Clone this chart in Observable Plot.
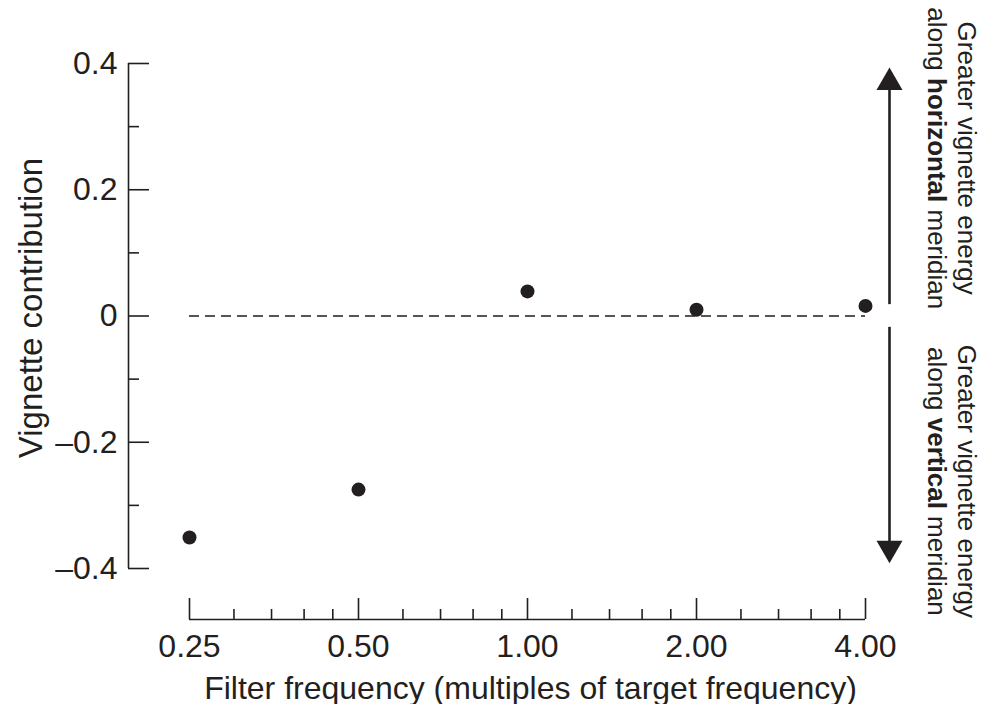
<!DOCTYPE html>
<html>
<head>
<meta charset="utf-8">
<script src="https://cdn.jsdelivr.net/npm/d3@7"></script>
<script src="https://cdn.jsdelivr.net/npm/@observablehq/plot@0.6"></script>
<style>
  html, body { margin: 0; padding: 0; background: #ffffff; }
  #chart { width: 982px; height: 704px; }
</style>
</head>
<body>
<div id="chart"></div>
<script>
// ---- data ----
const frequencies   = [0.25, 0.5, 1, 2, 4];
const contributions = [-0.351, -0.275, 0.039, 0.010, 0.016];

const xMajorTicks = [0.25, 0.5, 1, 2, 4];
const xTickLabels = ["0.25", "0.50", "1.00", "2.00", "4.00"];
const xMinorTicks = [0.3, 0.35, 0.4, 0.45, 0.6, 0.7, 0.8, 0.9, 1.2, 1.4, 1.6, 1.8, 2.4, 2.8, 3.2, 3.6];

const yMajorTicks = [-0.4, -0.2, 0, 0.2, 0.4];
const yTickLabels = ["\u20130.4", "\u20130.2", "0", "0.2", "0.4"];
const yMinorTicks = [-0.3, -0.1, 0.1, 0.3];

const xTitle = "Filter frequency (multiples of target frequency)";
const yTitle = "Vignette contribution";
const upperNote = ["Greater vignette energy", "along horizontal meridian"];
const lowerNote = ["Greater vignette energy", "along vertical meridian"];

// ---- layout ----
const W = 982, H = 704;
const mL = 189, mR = 117, mT = 63, mB = 136;
const frameW = W - mL - mR, frameH = H - mT - mB;
const yAxisOffset = -61;   // y axis drawn left of the data area
const xAxisOffset = 51;    // x axis drawn below the data area
const ink = "#231f20";
const font = "'Liberation Sans', Helvetica, Arial, sans-serif";
const tickFont = 32;
const titleFont = 32;
const noteFont = 26;

const points = frequencies.map((f, i) => ({f, c: contributions[i]}));

const sqrt3 = Math.sqrt(3);
const triUp = {
  draw(ctx, size) {
    const y = -Math.sqrt(size / (sqrt3 * 3));
    ctx.moveTo(0, y * 2); ctx.lineTo(-sqrt3 * y, -y); ctx.lineTo(sqrt3 * y, -y); ctx.closePath();
  }
};
const triDown = {
  draw(ctx, size) {
    const y = Math.sqrt(size / (sqrt3 * 3));
    ctx.moveTo(0, y * 2); ctx.lineTo(-sqrt3 * y, -y); ctx.lineTo(sqrt3 * y, -y); ctx.closePath();
  }
};

const chart = Plot.plot({
  width: W,
  height: H,
  marginLeft: mL,
  marginRight: mR,
  marginTop: mT,
  marginBottom: mB,
  style: {fontFamily: font, background: "#ffffff", color: ink, overflow: "visible"},
  x: {type: "log", base: 2, domain: [0.25, 4], axis: null},
  y: {domain: [-0.4, 0.4], axis: null},
  marks: [
    // zero reference line
    Plot.ruleY([0], {stroke: "#555", strokeWidth: 2, strokeDasharray: "10,6"}),

    // y axis (offset)
    Plot.ruleX([0.25], {dx: yAxisOffset, stroke: ink, strokeWidth: 1.6}),
    Plot.tickY(yMajorTicks, {y: d => d, insetRight: frameW - 21, dx: yAxisOffset, stroke: ink, strokeWidth: 1.6}),
    Plot.tickY(yMinorTicks, {y: d => d, insetRight: frameW - 11, dx: yAxisOffset, stroke: ink, strokeWidth: 1.6}),
    Plot.text(yTickLabels, {x: 0.25, y: (d, i) => yMajorTicks[i], text: d => d, dx: yAxisOffset - 11,
      textAnchor: "end", fontSize: tickFont, fill: ink}),

    // x axis (offset)
    Plot.ruleY([-0.4], {dy: xAxisOffset, stroke: ink, strokeWidth: 1.6}),
    Plot.tickX(xMajorTicks, {x: d => d, insetTop: frameH - 21, dy: xAxisOffset, stroke: ink, strokeWidth: 1.6}),
    Plot.tickX(xMinorTicks, {x: d => d, insetTop: frameH - 10, dy: xAxisOffset, stroke: ink, strokeWidth: 1.6}),
    Plot.text(xTickLabels, {x: (d, i) => xMajorTicks[i], y: -0.4, text: d => d, dy: 78,
      fontSize: tickFont, fill: ink}),

    // axis titles
    Plot.text([xTitle], {frameAnchor: "bottom", text: d => d, textAnchor: "middle", lineAnchor: "middle",
      dx: 3, dy: 120, fontSize: titleFont, fill: ink}),
    Plot.text([yTitle], {frameAnchor: "left", text: d => d, textAnchor: "middle", lineAnchor: "middle",
      rotate: -90, dx: -158, dy: -8, fontSize: 33, fill: ink}),

    // data points
    Plot.dot(points, {x: "f", y: "c", r: 7, fill: ink, stroke: null}),

    // direction arrows on the right
    Plot.ruleX([4], {y1: 0.018, y2: 0.360, dx: 24, stroke: ink, strokeWidth: 2.6}),
    Plot.ruleX([4], {y1: -0.018, y2: -0.360, dx: 24, stroke: ink, strokeWidth: 2.6}),
    Plot.dot([4], {x: d => d, y: 0.370, dx: 24, symbol: triUp, r: 9.65, fill: ink, stroke: null}),
    Plot.dot([4], {x: d => d, y: -0.368, dx: 24, symbol: triDown, r: 9.65, fill: ink, stroke: null}),

    // annotation texts
    Plot.text([upperNote[0]], {x: 4, y: 0.250, text: d => d, rotate: 90, dx: 101, fontSize: noteFont, fill: ink}),
    Plot.text([upperNote[1]], {x: 4, y: 0.250, text: d => d, rotate: 90, dx: 71, fontSize: noteFont, fill: ink}),
    Plot.text([lowerNote[0]], {x: 4, y: -0.262, text: d => d, rotate: 90, dx: 101, fontSize: noteFont, fill: ink}),
    Plot.text([lowerNote[1]], {x: 4, y: -0.262, text: d => d, rotate: 90, dx: 71, fontSize: noteFont, fill: ink})
  ]
});

document.getElementById("chart").appendChild(chart);

// bold the key word in the annotation lines
d3.select(chart).selectAll("text").each(function () {
  const t = this.textContent;
  const m = t.match(/^(along )(horizontal|vertical)( meridian)$/);
  if (m) {
    const sel = d3.select(this);
    sel.text(null);
    sel.append("tspan").text(m[1]);
    sel.append("tspan").attr("font-weight", "bold").text(m[2]);
    sel.append("tspan").text(m[3]);
  }
});
</script>
</body>
</html>
